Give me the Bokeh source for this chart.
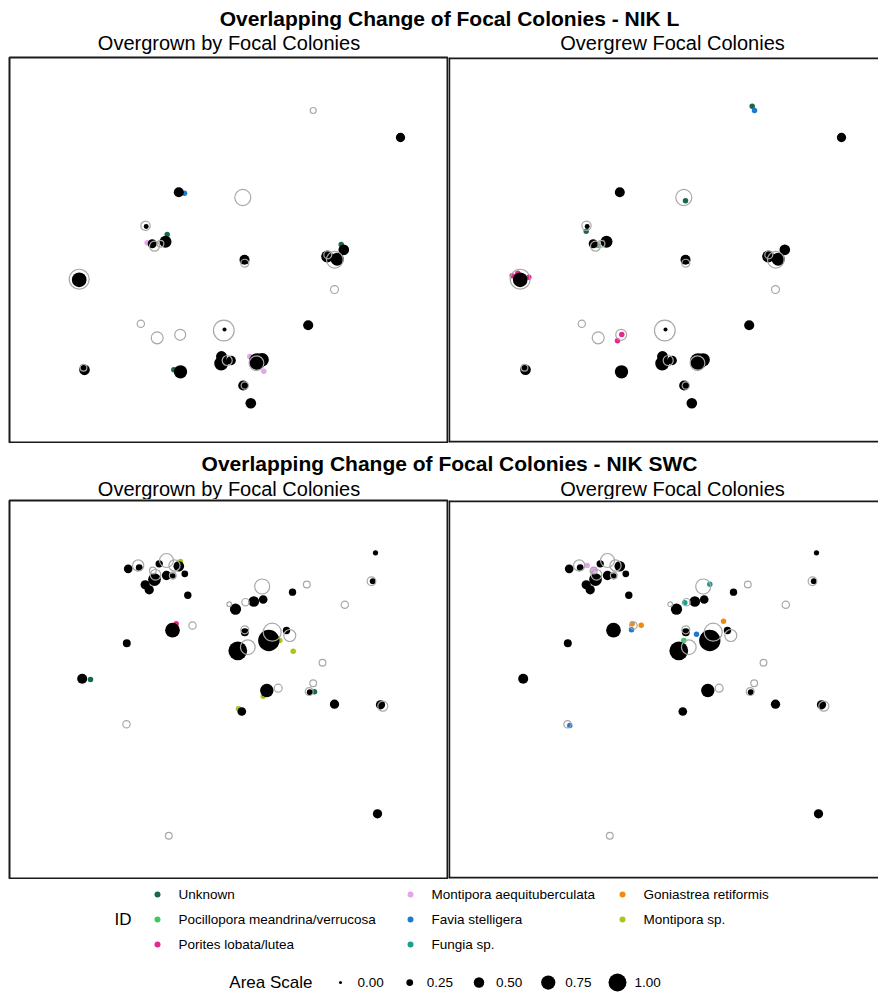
import numpy as np
from bokeh.plotting import figure
from bokeh.layouts import column, row
from bokeh.models import Range1d, Span, ColumnDataSource
from bokeh.transform import factor_cmap
from bokeh.core.properties import value
from bokeh.embed import file_html
from bokeh.resources import INLINE

FONT = "Liberation Sans"

# ---------------- data ----------------
ID_NAMES = ["Unknown", "Pocillopora meandrina/verrucosa", "Porites lobata/lutea",
            "Montipora aequituberculata", "Favia stelligera", "Fungia sp.",
            "Goniastrea retiformis", "Montipora sp."]
ID_COLORS = ["#17694a", "#3ec95c", "#e8268f", "#e2a6e9", "#1f78d4", "#1c9e8e",
             "#f08b12", "#a4c814"]

AREA_BREAKS = [0.0, 0.25, 0.5, 0.75, 1.0]
AREA_LABELS = ["0.00", "0.25", "0.50", "0.75", "1.00"]

# NIK L - focal colonies (x, y in cm from quadrat top-left corner, area)
L_focal_x = [391, 169.3, 136.7, 142.7, 156, 235, 317.7, 327.7, 334.3, 69.7, 215,
             298.7, 75, 171, 212, 211.7, 221.7, 247.7, 252.7, 233.7, 241.3]
L_focal_y = [80, 134.7, 169, 186.3, 184.3, 202.3, 199, 201.7, 192.3, 222.3, 272,
             267.7, 312.3, 314.3, 299, 306, 303, 304, 302.3, 328, 345.7]
L_focal_area = [0.42, 0.47, 0.13, 0.4, 0.6, 0.47, 0.6, 0.67, 0.51, 0.78, 0.07,
                0.47, 0.51, 0.69, 0.53, 0.73, 0.42, 0.91, 0.69, 0.47, 0.51]

# NIK L - other colonies (open circles)
L_other_x = [233.3, 136, 145, 151, 235.3, 318.3, 325.3, 325, 69.7, 131.3, 147.7,
             170.7, 214.3, 74, 217.7, 247, 235.3]
L_other_y = [140, 168.3, 188.7, 186.3, 205.7, 197.3, 202.3, 232, 221.7, 266.3, 280.3,
             277.3, 273, 310.3, 303, 305.7, 328]
L_other_area = [0.87, 0.42, 0.47, 0.25, 0.33, 0.33, 0.91, 0.33, 1.13, 0.29, 0.6,
                0.53, 1.18, 0.25, 0.47, 0.78, 0.29]
L_other_extra_x = [303.7]
L_other_extra_y = [53]
L_other_extra_area = [0.2]

# NIK L - identified colonies
L_overgrown_x = [175, 137.7, 240.3, 254.3, 157.7, 331.7, 164.3]
L_overgrown_y = [135.7, 185.3, 299, 313.7, 177, 187, 312.3]
L_overgrown_id = ["Favia stelligera", "Montipora aequituberculata",
                  "Montipora aequituberculata", "Montipora aequituberculata",
                  "Unknown", "Unknown", "Unknown"]
L_overgrew_x = [301.7, 235, 135.7, 304, 147.3, 61.7, 67.3, 78.3, 171.3, 167]
L_overgrew_y = [48.7, 143.3, 173.7, 53, 188, 218.3, 215.7, 219.7, 277, 283.3]
L_overgrew_id = ["Unknown", "Unknown", "Unknown", "Favia stelligera",
                 "Pocillopora meandrina/verrucosa", "Porites lobata/lutea",
                 "Porites lobata/lutea", "Porites lobata/lutea",
                 "Porites lobata/lutea", "Porites lobata/lutea"]

# NIK SWC - focal colonies
S_focal_x = [366, 363.3, 283, 244.3, 253.7, 226, 118.7, 129.7, 149.7, 169.3, 175.3,
             145, 157, 163.3, 135.7, 139.7, 178.3, 163, 117.3, 235.3, 259.3, 277,
             228.3, 72.7, 257.3, 300.3, 325, 371, 232.3, 368]
S_focal_y = [52.3, 80.7, 91.7, 101, 99, 108.7, 68.3, 67, 63.3, 65.7, 73.3,
             79, 75, 75.7, 84.3, 89.3, 94.7, 129.7, 142.7, 131.7, 140, 130,
             150.3, 178.3, 190, 191.7, 203.7, 204.3, 211, 313.3]
S_focal_area = [0.15, 0.2, 0.29, 0.51, 0.38, 0.55, 0.38, 0.25, 0.29, 0.51, 0.25,
                0.65, 0.42, 0.2, 0.42, 0.42, 0.29, 0.78, 0.33, 0.33, 1.22, 0.29,
                1.05, 0.47, 0.69, 0.2, 0.42, 0.42, 0.38, 0.42]

# NIK SWC - other colonies
S_other_x = [362, 297.3, 335.3, 252.7, 236, 219.7, 128.7, 157, 165, 143.3, 146, 163.3,
             183, 235.3, 262.7, 280.3, 238.3, 313, 268.7, 303.7, 299.7, 373.3, 117, 159.3]
S_other_y = [80.7, 84, 104.3, 86, 101.7, 103.7, 65, 60, 65, 70, 74.3, 75,
             125, 129.3, 131.7, 135, 146.7, 162.3, 187.7, 182.7, 191, 205.7, 223.7, 335.3]
S_other_area = [0.38, 0.25, 0.29, 0.8, 0.29, 0.11, 0.55, 0.73, 0.55, 0.25, 0.51, 0.25,
                0.29, 0.33, 1.0, 0.6, 0.78, 0.25, 0.33, 0.25, 0.33, 0.47, 0.29, 0.25]

# NIK SWC - identified colonies
S_overgrown_x = [171, 270.3, 283.7, 253.7, 229, 166.7, 81, 305]
S_overgrown_y = [61, 140, 150.7, 195.7, 208.3, 123.3, 179, 191.3]
S_overgrown_id = ["Montipora sp.", "Montipora sp.", "Montipora sp.", "Montipora sp.",
                  "Montipora sp.", "Porites lobata/lutea", "Unknown", "Unknown"]
S_overgrew_x = [136.7, 144, 141.7, 259.3, 234.3, 181.7, 190.7, 273, 181, 246, 119.3, 233.3]
S_overgrew_y = [65, 69, 71, 83.7, 102.3, 123.3, 124.7, 120.7, 129.3, 133.7, 225, 140]
S_overgrew_id = ["Montipora aequituberculata", "Montipora aequituberculata",
                 "Montipora aequituberculata", "Fungia sp.", "Fungia sp.",
                 "Goniastrea retiformis", "Goniastrea retiformis", "Goniastrea retiformis",
                 "Favia stelligera", "Favia stelligera", "Favia stelligera",
                 "Pocillopora meandrina/verrucosa"]

# ---------------- styling / scales ----------------
FRAME_COL = "#1a1a1a"
RING_COL = "#a8a8a8"
LEFT_PAD = 9
LEFT_FIG_W, RIGHT_FIG_W = 448, 430
TOP_FRAME_H, BOT_FRAME_H = 385, 378
QUAD_W = LEFT_FIG_W - LEFT_PAD
TOTAL_W = LEFT_FIG_W + RIGHT_FIG_W


def area_px(a):
    return (3 + 15 * np.asarray(a, dtype=float)).tolist()


def base_fig(w, h, xr, yr, **kw):
    p = figure(width=w, height=h, x_range=xr, y_range=yr, output_backend="svg",
               toolbar_location=None, x_axis_location=None, y_axis_location=None,
               title=None, **kw)
    p.grid.visible = False
    p.background_fill_color = "white"
    p.border_fill_color = "white"
    return p


def panel(first_col, frame_h, focal, others, marks, extra=None):
    fig_w = LEFT_FIG_W if first_col else RIGHT_FIG_W
    if first_col:
        xr = Range1d(0, QUAD_W)
    else:
        xr = Range1d(-2, RIGHT_FIG_W - 2)
    p = base_fig(fig_w, frame_h + 2, xr, Range1d(frame_h, 0),
                 min_border_left=LEFT_PAD if first_col else 0, min_border_right=0,
                 min_border_top=1, min_border_bottom=1)
    if first_col:
        p.outline_line_color = FRAME_COL
        p.outline_line_width = 2
    else:
        p.outline_line_color = None
        for loc, dim in [(xr.start, "height"), (0, "width"), (frame_h, "width")]:
            p.add_layout(Span(location=loc, dimension=dim, line_color=FRAME_COL, line_width=3.5))
    src = ColumnDataSource(dict(x=marks[0], y=marks[1], sp=marks[2]))
    p.scatter("x", "y", source=src, size=5.5, marker="circle", line_color=None,
              fill_color=factor_cmap("sp", palette=ID_COLORS, factors=ID_NAMES))
    p.scatter(focal[0], focal[1], size=area_px(focal[2]), marker="circle",
              fill_color="black", line_color=None)
    p.scatter(others[0], others[1], size=area_px(others[2]), marker="circle",
              fill_color=None, line_color=RING_COL, line_width=1.2)
    if extra is not None:
        p.scatter(extra[0], extra[1], size=area_px(extra[2]), marker="circle",
                  fill_color=None, line_color=RING_COL, line_width=1.2)
    return p


def header(h, title, title_y, sub_y):
    p = base_fig(TOTAL_W, h, Range1d(0, TOTAL_W), Range1d(h, 0), min_border=0)
    p.outline_line_color = None
    p.text(x=[449], y=[title_y], text=[title], text_font=value(FONT),
           text_font_size="21px", text_font_style="bold", text_align="center",
           text_baseline="middle", text_color="black")
    p.text(x=[LEFT_PAD + QUAD_W / 2, 672], y=[sub_y, sub_y],
           text=["Overgrown by Focal Colonies", "Overgrew Focal Colonies"],
           text_font=value(FONT), text_font_size="20px", text_align="center",
           text_baseline="middle", text_color="black")
    return p


h1 = header(56, "Overlapping Change of Focal Colonies - NIK L", 17.5, 42.5)
tl = panel(True, TOP_FRAME_H, (L_focal_x, L_focal_y, L_focal_area),
           (L_other_x, L_other_y, L_other_area),
           (L_overgrown_x, L_overgrown_y, L_overgrown_id),
           extra=(L_other_extra_x, L_other_extra_y, L_other_extra_area))
tr = panel(False, TOP_FRAME_H, (L_focal_x, L_focal_y, L_focal_area),
           (L_other_x, L_other_y, L_other_area),
           (L_overgrew_x, L_overgrew_y, L_overgrew_id))
h2 = header(56, "Overlapping Change of Focal Colonies - NIK SWC", 19.5, 45)
bl = panel(True, BOT_FRAME_H, (S_focal_x, S_focal_y, S_focal_area),
           (S_other_x, S_other_y, S_other_area),
           (S_overgrown_x, S_overgrown_y, S_overgrown_id))
br = panel(False, BOT_FRAME_H, (S_focal_x, S_focal_y, S_focal_area),
           (S_other_x, S_other_y, S_other_area),
           (S_overgrew_x, S_overgrew_y, S_overgrew_id))

# ---------------- legend ----------------
LH = 996 - 56 - 387 - 56 - 380
lg = base_fig(TOTAL_W, LH, Range1d(0, TOTAL_W), Range1d(LH, 0), min_border=0)
lg.outline_line_color = None
col_x = [157, 410, 622]
row_y = [15, 40, 65]
kx = [col_x[i // 3] for i in range(len(ID_NAMES))]
ky = [row_y[i % 3] for i in range(len(ID_NAMES))]
lg.scatter(kx, ky, size=6, marker="circle", line_color=None, fill_color=ID_COLORS)
lg.text(x=[v + 21 for v in kx], y=ky, text=ID_NAMES, text_font=value(FONT),
        text_font_size="13.5px", text_align="left", text_baseline="middle",
        text_color="black")
lg.text(x=[131], y=[row_y[1]], text=["ID"], text_font=value(FONT), text_font_size="17px",
        text_align="right", text_baseline="middle", text_color="black")

area_y = 103
ax = [340 + i * 69.25 for i in range(len(AREA_BREAKS))]
lg.scatter(ax, [area_y] * len(ax), size=area_px(AREA_BREAKS), marker="circle",
           fill_color="black", line_color=None)
lg.text(x=[v + 17 for v in ax], y=[area_y] * len(ax), text=AREA_LABELS,
        text_font=value(FONT), text_font_size="13.5px", text_align="left",
        text_baseline="middle", text_color="black")
lg.text(x=[312], y=[area_y], text=["Area Scale"], text_font=value(FONT),
        text_font_size="17px", text_align="right", text_baseline="middle",
        text_color="black")

layout = column(h1, row(tl, tr), h2, row(bl, br), lg, spacing=0)

open("out.html", "w").write(file_html(layout, INLINE))
